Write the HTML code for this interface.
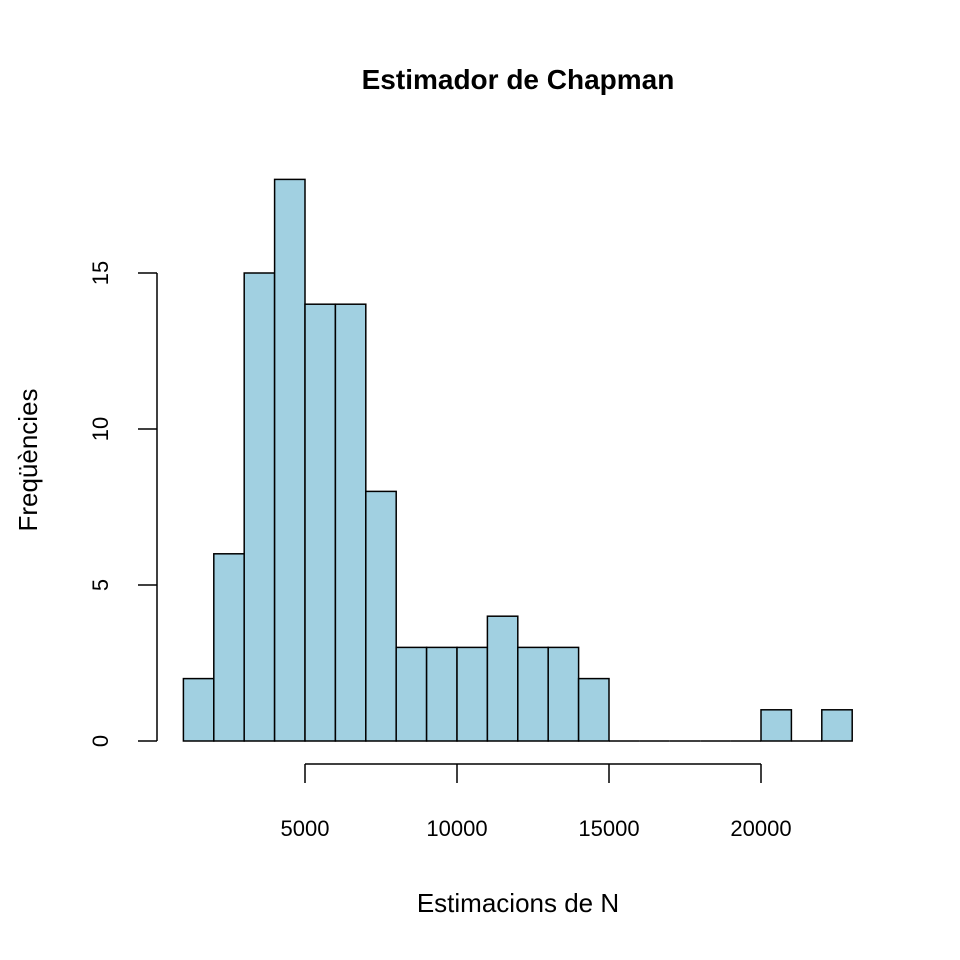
<!DOCTYPE html>
<html><head><meta charset="utf-8"><style>
body{margin:0;background:#fff;}
svg{display:block;font-family:"Liberation Sans",Arial,sans-serif;}
</style></head><body>
<svg id="chart" width="960" height="960" viewBox="0 0 960 960">
<text x="518" y="89" text-anchor="middle" font-size="28" font-weight="bold">Estimador de Chapman</text>
<text x="518" y="912" text-anchor="middle" font-size="26">Estimacions de N</text>
<text transform="translate(37,460) rotate(-90)" text-anchor="middle" font-size="26">Freqüències</text>
<g id="bars"></g><g id="axes"></g>
</svg>
<script>
const binStarts = [1000,2000,3000,4000,5000,6000,7000,8000,9000,10000,11000,12000,13000,14000,15000,16000,17000,18000,19000,20000,21000,22000];
const binWidth = 1000;
const counts = [2,6,15,18,14,14,8,3,3,3,4,3,3,2,0,0,0,0,0,1,0,1];
const xTicks = [5000,10000,15000,20000];
const yTicks = [0,5,10,15];
const NS="http://www.w3.org/2000/svg";
function xs(v){return 153+v*0.0304;}
function ys(v){return 741-v*31.2;}
const bars=document.getElementById('bars'), axes=document.getElementById('axes');
function mk(tag,attrs,parent){const e=document.createElementNS(NS,tag);for(const k in attrs)e.setAttribute(k,attrs[k]);parent.appendChild(e);return e;}
binStarts.forEach((b,i)=>{
  const x0=xs(b),x1=xs(b+binWidth),y=ys(counts[i]),y0=ys(0);
  let r;
  if(counts[i]>0){
    r=mk('rect',{x:x0,y:y,width:x1-x0,height:y0-y,fill:'#a1d0e1',stroke:'#000','stroke-width':1.5},bars);
  } else {
    r=mk('line',{x1:x0,x2:x1,y1:y0,y2:y0,stroke:'#000','stroke-width':1.5},bars);
  }
  
  
});
let ax=mk('line',{x1:xs(xTicks[0]),x2:xs(xTicks[xTicks.length-1]),y1:764,y2:764,stroke:'#000','stroke-width':1.5},axes);


xTicks.forEach(t=>{
  mk('line',{x1:xs(t),x2:xs(t),y1:764,y2:783,stroke:'#000','stroke-width':1.5},axes);
  const tx=mk('text',{x:xs(t),y:836,'text-anchor':'middle','font-size':22},axes);
  tx.textContent=t;
  
  
});
let ay=mk('line',{x1:157,x2:157,y1:ys(yTicks[0]),y2:ys(yTicks[yTicks.length-1]),stroke:'#000','stroke-width':1.5},axes);


yTicks.forEach(t=>{
  mk('line',{x1:138,x2:157,y1:ys(t),y2:ys(t),stroke:'#000','stroke-width':1.5},axes);
  const tx=mk('text',{transform:'translate(108,'+ys(t)+') rotate(-90)','text-anchor':'middle','font-size':22},axes);
  tx.textContent=t;
  
  
});
</script>
</body></html>
